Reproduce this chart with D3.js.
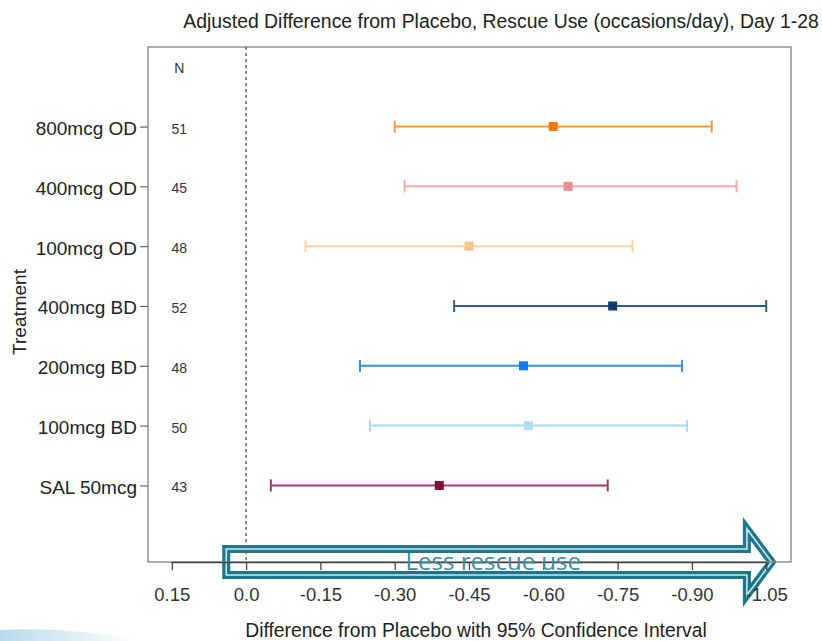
<!DOCTYPE html>
<html><head><meta charset="utf-8">
<script src="https://cdn.jsdelivr.net/npm/d3@7"></script>
<style>body{margin:0;background:#fff}svg{display:block}</style>
</head><body>
<svg id="chart" width="822" height="641"></svg>
<script>
const categories = ["800mcg OD","400mcg OD","100mcg OD","400mcg BD","200mcg BD","100mcg BD","SAL 50mcg"];
const nValues = [51,45,48,52,48,50,43];
const estimates = [-0.62,-0.65,-0.45,-0.74,-0.56,-0.57,-0.39];
const lowerCI = [-0.30,-0.32,-0.12,-0.42,-0.23,-0.25,-0.05];
const upperCI = [-0.94,-0.99,-0.78,-1.05,-0.88,-0.89,-0.73];
const xTicks = [0.15,0,-0.15,-0.30,-0.45,-0.60,-0.75,-0.90,-1.05];
const xTickLabels = ["0.15","0.0","-0.15","-0.30","-0.45","-0.60","-0.75","-0.90","-1.05"];
const lineColors = ["#f89a3a","#f5a9a9","#fdd3a2","#2e5f8c","#3592e6","#aad9f7","#a33a63"];
const pointColors = ["#f27a05","#ec8f92","#fcc487","#0f3d6b","#0b7df2","#b5defa","#7d0b3d"];

const svg = d3.select("#chart");
const font = "'Liberation Sans', Arial, Helvetica, sans-serif";
const x = d3.scaleLinear().domain([0.2,-1.1]).range([147,791]);
const y = d3.scaleLinear().domain([-0.28,8.33]).range([562,47]);
const pos = i => categories.length - i;

// bottom-left decorative swoosh
const grad = svg.append("defs").append("linearGradient").attr("id","sw").attr("x1","0").attr("x2","1");
grad.append("stop").attr("offset","0").attr("stop-color","#b9dbe9");
grad.append("stop").attr("offset","1").attr("stop-color","#ffffff");
svg.append("path").attr("d","M0,641 L0,630 Q70,626 140,641 Z").attr("fill","url(#sw)");

// title
svg.append("text").attr("x",501).attr("y",28).attr("text-anchor","middle")
  .attr("font-family",font).attr("font-size",19.4).attr("fill","#222")
  .text("Adjusted Difference from Placebo, Rescue Use (occasions/day), Day 1-28");

// arrow annotation (drawn under axis)
const cy = y.range()[0];
const ax0 = x(0.04), axb = x(-1.011), axt = x(-1.061);
const arrowPath = `M${ax0},${cy-13} L${axb},${cy-13} L${axb},${cy-33} L${axt},${cy} L${axb},${cy+33} L${axb},${cy+13} L${ax0},${cy+13} Z`;
svg.append("path").attr("d",arrowPath).attr("fill","#fff").attr("stroke","#1d7689").attr("stroke-width",8).attr("stroke-linejoin","miter");
svg.append("path").attr("d",arrowPath).attr("fill","none").attr("stroke","#cfe9ee").attr("stroke-width",1.6);

// box
svg.append("rect").attr("x",x(0.2)+1).attr("y",y(8.33)).attr("width",x(-1.1)-x(0.2)-1).attr("height",y(-0.28)-y(8.33))
  .attr("fill","none").attr("stroke","#8a8a8a").attr("stroke-width",1.4);

// zero line
svg.append("line").attr("x1",x(0)).attr("x2",x(0)).attr("y1",y(8.33)).attr("y2",y(-0.28))
  .attr("stroke","#666").attr("stroke-width",1.5).attr("stroke-dasharray","3,3");

// x axis
const xAxis = d3.axisBottom(x).tickValues(xTicks).tickFormat((d,i)=>xTickLabels[i]).tickSize(8).tickSizeOuter(0);
const gx = svg.append("g").attr("transform",`translate(0,${cy})`).call(xAxis);
gx.select(".domain").attr("d",`M${x(0.15)},0.5H${x(-1.05)}`).attr("stroke","#444").attr("stroke-width",1.3);
gx.selectAll(".tick line").attr("stroke","#444").attr("stroke-width",1.3);
gx.selectAll(".tick text").attr("font-family",font).attr("font-size",18.5).attr("fill","#333").attr("dy","1.5em");

// arrow text
svg.append("text").attr("x",x(-0.322)).attr("y",cy+8).attr("font-family","'Open Sans', sans-serif")
  .attr("font-size",24).attr("fill","#3a8d9f").text("Less rescue use");

// y axis
const yAxis = d3.axisLeft(y).tickValues(categories.map((c,i)=>pos(i))).tickFormat(d=>categories[categories.length-d]).tickSize(8).tickSizeOuter(0);
const gy = svg.append("g").attr("transform",`translate(${x(0.2)+1},0)`).call(yAxis);
gy.select(".domain").remove();
gy.selectAll(".tick line").attr("stroke","#666").attr("stroke-width",1.2);
gy.selectAll(".tick text").attr("font-family",font).attr("font-size",19).attr("fill","#222").attr("x",-11).attr("dy","0.42em");

// N column
svg.append("text").attr("x",x(0.135)).attr("y",y(8)).attr("dy","0.45em").attr("text-anchor","middle")
  .attr("font-family",font).attr("font-size",14).attr("fill","#333").text("N");
svg.selectAll(".nval").data(nValues).enter().append("text").attr("class","nval")
  .attr("x",x(0.135)).attr("y",(d,i)=>y(pos(i))).attr("dy","0.5em").attr("text-anchor","middle")
  .attr("font-family",font).attr("font-size",14).attr("fill","#333").text(d=>d);

// error bars
const g = svg.append("g");
categories.forEach((c,i)=>{
  const yy = y(pos(i));
  g.append("line").attr("x1",x(lowerCI[i])).attr("x2",x(upperCI[i])).attr("y1",yy).attr("y2",yy)
    .attr("stroke",lineColors[i]).attr("stroke-width",2);
  [lowerCI[i],upperCI[i]].forEach(v=>{
    g.append("line").attr("x1",x(v)).attr("x2",x(v)).attr("y1",yy-6).attr("y2",yy+6)
      .attr("stroke",lineColors[i]).attr("stroke-width",2);
  });
  g.append("rect").attr("x",x(estimates[i])-4.5).attr("y",yy-4.5).attr("width",9).attr("height",9)
    .attr("fill",pointColors[i]);
});

// axis titles
svg.append("text").attr("x",476).attr("y",637).attr("text-anchor","middle")
  .attr("font-family",font).attr("font-size",19.3).attr("fill","#222")
  .text("Difference from Placebo with 95% Confidence Interval");
svg.append("text").attr("transform",`translate(26,${y(3.9)}) rotate(-90)`).attr("text-anchor","middle")
  .attr("font-family",font).attr("font-size",19).attr("fill","#222").text("Treatment");
</script>
</body></html>
